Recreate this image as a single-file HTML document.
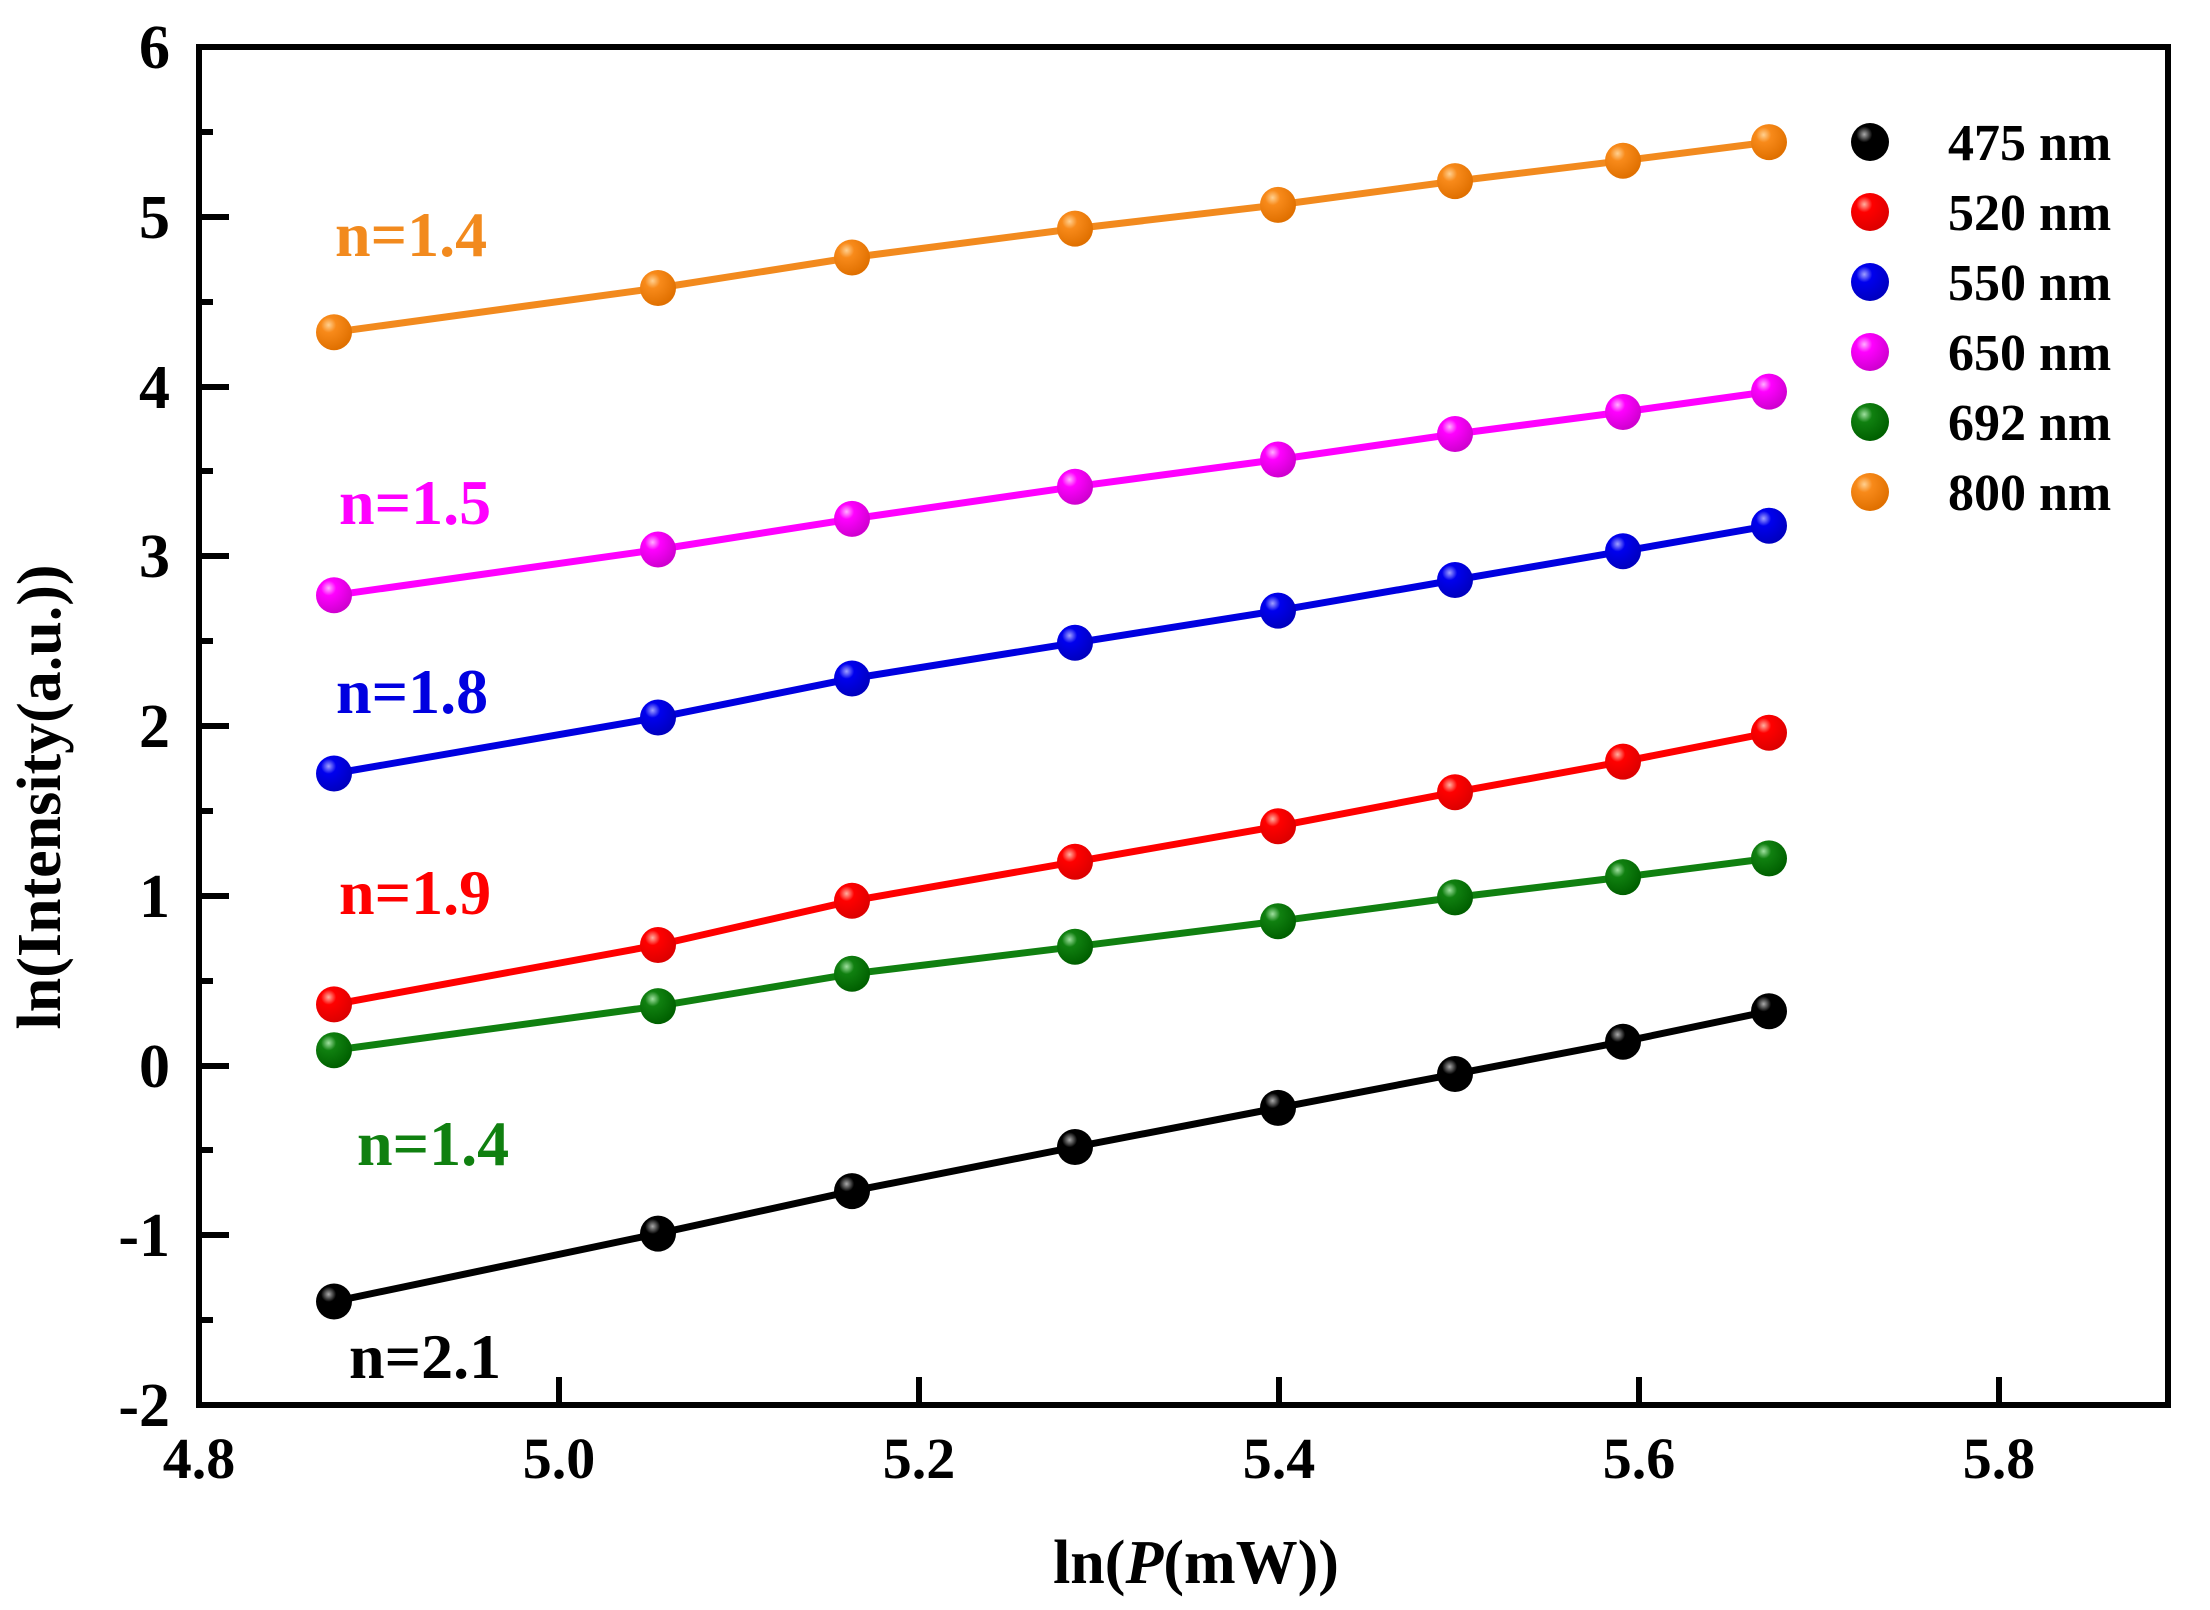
<!DOCTYPE html>
<html><head><style>body{margin:0;background:#fff}svg{display:block}text{font-family:"Liberation Serif",serif;font-weight:bold}</style></head><body>
<svg width="2210" height="1610" viewBox="0 0 2210 1610" xmlns="http://www.w3.org/2000/svg">
<defs>
<radialGradient id="gk" cx="0.35" cy="0.3" r="0.7"><stop offset="0" stop-color="#aaa"/><stop offset="0.3" stop-color="#000"/><stop offset="1" stop-color="#000"/></radialGradient>
<radialGradient id="gr" cx="0.35" cy="0.3" r="0.7"><stop offset="0" stop-color="#ffb0a0"/><stop offset="0.3" stop-color="#f00"/><stop offset="1" stop-color="#d00"/></radialGradient>
<radialGradient id="gb" cx="0.35" cy="0.3" r="0.7"><stop offset="0" stop-color="#a0a0ff"/><stop offset="0.3" stop-color="#0000ee"/><stop offset="1" stop-color="#0000c0"/></radialGradient>
<radialGradient id="gm" cx="0.35" cy="0.3" r="0.7"><stop offset="0" stop-color="#ffb0ff"/><stop offset="0.3" stop-color="#f0f"/><stop offset="1" stop-color="#d000d0"/></radialGradient>
<radialGradient id="gg" cx="0.35" cy="0.3" r="0.7"><stop offset="0" stop-color="#a0e0a0"/><stop offset="0.3" stop-color="#108010"/><stop offset="1" stop-color="#006000"/></radialGradient>
<radialGradient id="go" cx="0.35" cy="0.3" r="0.7"><stop offset="0" stop-color="#ffd090"/><stop offset="0.3" stop-color="#f88a1a"/><stop offset="1" stop-color="#e07000"/></radialGradient>
</defs>
<g fill="none" stroke-width="7">
<polyline stroke="#f28a1e" points="334,332.2 658,288.0 852,257.5 1075,228.6 1278,204.9 1455,181.1 1623,160.7 1769,142.1"/>
<polyline stroke="#f0f" points="334,595.3 658,549.5 852,518.9 1075,486.7 1278,459.5 1455,434.0 1623,412.0 1769,391.6"/>
<polyline stroke="#0000e0" points="334,773.5 658,717.5 852,678.5 1075,642.8 1278,610.6 1455,580.0 1623,551.2 1769,525.7"/>
<polyline stroke="#f00" points="334,1004.4 658,945.0 852,900.8 1075,861.8 1278,826.2 1455,792.2 1623,761.6 1769,732.8"/>
<polyline stroke="#108010" points="334,1050.2 658,1006.1 852,973.8 1075,946.7 1278,921.2 1455,897.4 1623,877.1 1769,858.4"/>
<polyline stroke="#000" points="334,1301.5 658,1233.6 852,1191.1 1075,1147.0 1278,1107.9 1455,1074.0 1623,1041.7 1769,1011.2"/>
</g>
<g fill="url(#go)"><circle cx="334" cy="332.2" r="18"/><circle cx="658" cy="288.0" r="18"/><circle cx="852" cy="257.5" r="18"/><circle cx="1075" cy="228.6" r="18"/><circle cx="1278" cy="204.9" r="18"/><circle cx="1455" cy="181.1" r="18"/><circle cx="1623" cy="160.7" r="18"/><circle cx="1769" cy="142.1" r="18"/></g>
<g fill="url(#gm)"><circle cx="334" cy="595.3" r="18"/><circle cx="658" cy="549.5" r="18"/><circle cx="852" cy="518.9" r="18"/><circle cx="1075" cy="486.7" r="18"/><circle cx="1278" cy="459.5" r="18"/><circle cx="1455" cy="434.0" r="18"/><circle cx="1623" cy="412.0" r="18"/><circle cx="1769" cy="391.6" r="18"/></g>
<g fill="url(#gb)"><circle cx="334" cy="773.5" r="18"/><circle cx="658" cy="717.5" r="18"/><circle cx="852" cy="678.5" r="18"/><circle cx="1075" cy="642.8" r="18"/><circle cx="1278" cy="610.6" r="18"/><circle cx="1455" cy="580.0" r="18"/><circle cx="1623" cy="551.2" r="18"/><circle cx="1769" cy="525.7" r="18"/></g>
<g fill="url(#gr)"><circle cx="334" cy="1004.4" r="18"/><circle cx="658" cy="945.0" r="18"/><circle cx="852" cy="900.8" r="18"/><circle cx="1075" cy="861.8" r="18"/><circle cx="1278" cy="826.2" r="18"/><circle cx="1455" cy="792.2" r="18"/><circle cx="1623" cy="761.6" r="18"/><circle cx="1769" cy="732.8" r="18"/></g>
<g fill="url(#gg)"><circle cx="334" cy="1050.2" r="18"/><circle cx="658" cy="1006.1" r="18"/><circle cx="852" cy="973.8" r="18"/><circle cx="1075" cy="946.7" r="18"/><circle cx="1278" cy="921.2" r="18"/><circle cx="1455" cy="897.4" r="18"/><circle cx="1623" cy="877.1" r="18"/><circle cx="1769" cy="858.4" r="18"/></g>
<g fill="url(#gk)"><circle cx="334" cy="1301.5" r="18"/><circle cx="658" cy="1233.6" r="18"/><circle cx="852" cy="1191.1" r="18"/><circle cx="1075" cy="1147.0" r="18"/><circle cx="1278" cy="1107.9" r="18"/><circle cx="1455" cy="1074.0" r="18"/><circle cx="1623" cy="1041.7" r="18"/><circle cx="1769" cy="1011.2" r="18"/></g>
<rect x="199" y="47" width="1969" height="1358" fill="none" stroke="#000" stroke-width="6"/>
<g stroke="#000" stroke-width="6">
<line x1="199" y1="47" x2="229" y2="47"/><line x1="199" y1="217" x2="229" y2="217"/><line x1="199" y1="387" x2="229" y2="387"/><line x1="199" y1="556" x2="229" y2="556"/><line x1="199" y1="726" x2="229" y2="726"/><line x1="199" y1="896" x2="229" y2="896"/><line x1="199" y1="1066" x2="229" y2="1066"/><line x1="199" y1="1235" x2="229" y2="1235"/>
<line x1="199" y1="132" x2="213" y2="132"/><line x1="199" y1="302" x2="213" y2="302"/><line x1="199" y1="471" x2="213" y2="471"/><line x1="199" y1="641" x2="213" y2="641"/><line x1="199" y1="811" x2="213" y2="811"/><line x1="199" y1="981" x2="213" y2="981"/><line x1="199" y1="1150" x2="213" y2="1150"/><line x1="199" y1="1320" x2="213" y2="1320"/>
<line x1="559" y1="1405" x2="559" y2="1377"/><line x1="919" y1="1405" x2="919" y2="1377"/><line x1="1279" y1="1405" x2="1279" y2="1377"/><line x1="1639" y1="1405" x2="1639" y2="1377"/><line x1="1999" y1="1405" x2="1999" y2="1377"/>
</g>
<g font-size="62" text-anchor="end">
<text x="170" y="68">6</text><text x="170" y="238">5</text><text x="170" y="408">4</text><text x="170" y="577">3</text><text x="170" y="747">2</text><text x="170" y="917">1</text><text x="170" y="1087">0</text><text x="170" y="1256">-1</text><text x="170" y="1426">-2</text>
</g>
<g font-size="58" text-anchor="middle">
<text x="199" y="1478">4.8</text><text x="559" y="1478">5.0</text><text x="919" y="1478">5.2</text><text x="1279" y="1478">5.4</text><text x="1639" y="1478">5.6</text><text x="1999" y="1478">5.8</text>
</g>
<text x="1196" y="1583" font-size="62" text-anchor="middle">ln(<tspan font-style="italic">P</tspan>(mW))</text>
<text transform="translate(60,797) rotate(-90)" font-size="62" text-anchor="middle">ln(Intensity(a.u.))</text>
<g font-size="64">
<text x="335" y="256" fill="#f28a1e">n=1.4</text>
<text x="339" y="524" fill="#f0f">n=1.5</text>
<text x="336" y="713" fill="#0000e0">n=1.8</text>
<text x="339" y="914" fill="#f00">n=1.9</text>
<text x="357" y="1165" fill="#108010">n=1.4</text>
<text x="349" y="1378" fill="#000">n=2.1</text>
</g>
<g font-size="52">
<circle cx="1870" cy="142" r="19" fill="url(#gk)"/><text x="1948" y="160">475 nm</text>
<circle cx="1870" cy="212" r="19" fill="url(#gr)"/><text x="1948" y="230">520 nm</text>
<circle cx="1870" cy="282" r="19" fill="url(#gb)"/><text x="1948" y="300">550 nm</text>
<circle cx="1870" cy="352" r="19" fill="url(#gm)"/><text x="1948" y="370">650 nm</text>
<circle cx="1870" cy="422" r="19" fill="url(#gg)"/><text x="1948" y="440">692 nm</text>
<circle cx="1870" cy="492" r="19" fill="url(#go)"/><text x="1948" y="510">800 nm</text>
</g>
</svg>
</body></html>
